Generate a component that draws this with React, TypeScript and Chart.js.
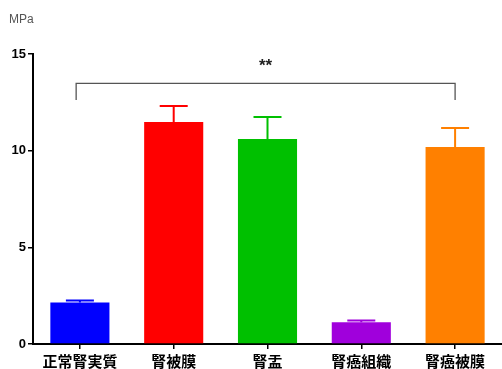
import React, { useEffect, useRef } from "react";
import { Chart, registerables } from "chart.js";

Chart.register(...registerables);

const categories = ["正常腎実質", "腎被膜", "腎盂", "腎癌組織", "腎癌被膜"];
const means = [2.15, 11.48, 10.6, 1.12, 10.19];
const errors = [0.1, 0.83, 1.14, 0.1, 0.98];
const colors = ["#0000FF", "#FF0000", "#00C000", "#A000DC", "#FF8000"];
const yTicks = [0, 5, 10, 15];
const bracketY = 13.48;
const bracketDrop = 0.86;
const bracketFrom = -0.04;
const bracketTo = 4;
const bracketLabel = "**";
const unitLabel = "MPa";

const overlay = {
  id: "overlay",
  afterDatasetsDraw(chart: any) {
    const { ctx, scales } = chart;
    const x = scales.x;
    const y = scales.y;
    ctx.save();
    means.forEach((m, i) => {
      const cx = x.getPixelForValue(i);
      const top = y.getPixelForValue(m + errors[i]);
      const base = y.getPixelForValue(m);
      ctx.strokeStyle = colors[i];
      ctx.lineWidth = 2;
      ctx.beginPath();
      ctx.moveTo(cx, base);
      ctx.lineTo(cx, top);
      ctx.moveTo(cx - 14, top);
      ctx.lineTo(cx + 14, top);
      ctx.stroke();
    });
    const x1 = x.getPixelForValue(bracketFrom);
    const x2 = x.getPixelForValue(bracketTo);
    const by = y.getPixelForValue(bracketY);
    const bd = y.getPixelForValue(bracketY - bracketDrop);
    ctx.strokeStyle = "#555";
    ctx.lineWidth = 1.3;
    ctx.beginPath();
    ctx.moveTo(x1, bd);
    ctx.lineTo(x1, by);
    ctx.lineTo(x2, by);
    ctx.lineTo(x2, bd);
    ctx.stroke();
    ctx.fillStyle = "#222";
    ctx.font = "bold 17px 'Liberation Sans', Arial, sans-serif";
    ctx.textAlign = "center";
    ctx.textBaseline = "middle";
    ctx.fillText(bracketLabel, (x1 + x2) / 2, by - 17);
    ctx.fillStyle = "#555";
    ctx.font = "12px 'Liberation Sans', Arial, sans-serif";
    ctx.textAlign = "left";
    ctx.fillText(unitLabel, 9, 20);
    ctx.restore();
  },
};

export default function App() {
  const ref = useRef<HTMLCanvasElement>(null);
  useEffect(() => {
    const chart = new Chart(ref.current!, {
      type: "bar",
      data: {
        labels: categories,
        datasets: [
          {
            data: means,
            backgroundColor: colors,
            borderWidth: 0,
            barPercentage: 0.63,
            categoryPercentage: 1,
          },
        ],
      },
      options: {
        animation: false,
        responsive: false,
        layout: { padding: { top: 54, right: 0, left: 0, bottom: 0 } },
        plugins: { legend: { display: false }, tooltip: { enabled: false } },
        scales: {
          x: {
            offset: true,
            grid: {
              display: true,
              drawOnChartArea: false,
              drawTicks: true,
              tickLength: 5,
              color: "#000",
              lineWidth: 1.5,
              offset: false,
            },
            border: { display: true, color: "#000", width: 2 },
            ticks: {
              color: "#000",
              padding: 3,
              maxRotation: 0,
              autoSkip: false,
              font: { family: "'Noto Sans CJK JP', sans-serif", size: 15, weight: "bold" },
            },
            afterFit(s: any) {
              s.height = 25;
            },
          },
          y: {
            min: 0,
            max: 15,
            afterBuildTicks(s: any) {
              s.ticks = yTicks.map((v) => ({ value: v }));
            },
            grid: {
              display: true,
              drawOnChartArea: false,
              drawTicks: true,
              tickLength: 5,
              color: "#000",
              lineWidth: 1.5,
            },
            border: { display: true, color: "#000", width: 2 },
            ticks: {
              color: "#000",
              padding: 2,
              font: { family: "'Liberation Sans', Arial, sans-serif", size: 13, weight: "bold" },
            },
            afterFit(s: any) {
              s.width = 33;
            },
          },
        },
      },
      plugins: [overlay],
    });
    return () => chart.destroy();
  }, []);
  return (
    <div style={{ position: "fixed", left: 0, top: 0, width: 502, height: 369, background: "#fff" }}>
      <canvas ref={ref} width={502} height={369} style={{ width: 502, height: 369 }} />
    </div>
  );
}
